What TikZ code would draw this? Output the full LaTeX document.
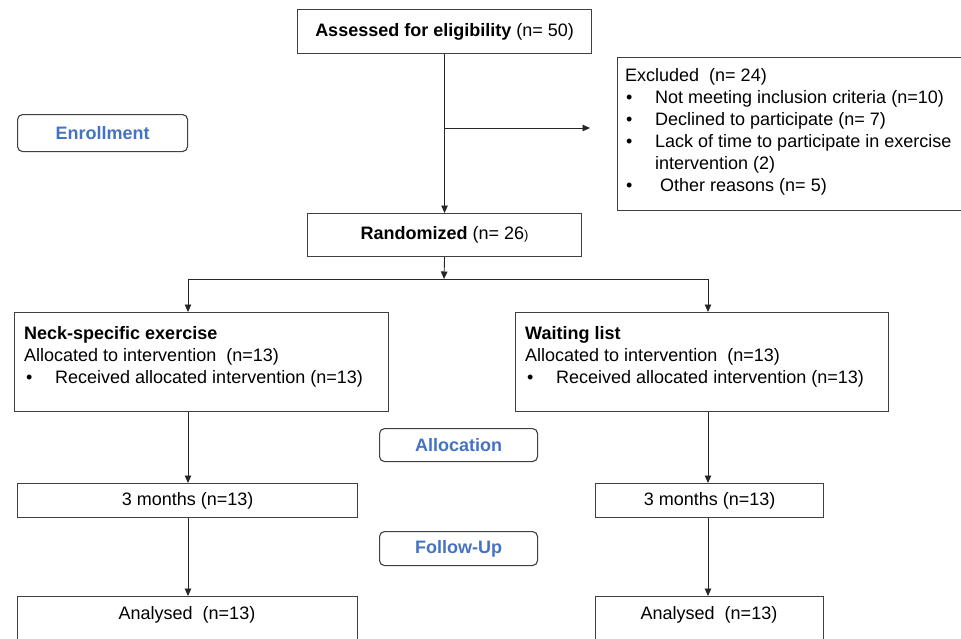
\documentclass[tikz,border=0pt]{standalone}
\usepackage{fontspec}
\setmainfont{Liberation Sans}
\usetikzlibrary{arrows.meta}
\definecolor{boxline}{HTML}{404040}
\definecolor{stageblue}{HTML}{4472C4}
\begin{document}
\begin{tikzpicture}[x=1pt,y=-1pt,
  font=\fontsize{18}{22}\selectfont,
  box/.style={draw=boxline, line width=1.1pt, inner sep=0pt, anchor=north west},
  stage/.style={draw=boxline, line width=1.1pt, rounded corners=5pt, inner sep=0pt,
    anchor=north west, font=\fontsize{18}{22}\selectfont\bfseries, text=stageblue},
  conn/.style={draw=black!85, line width=0.9pt},
  arr/.style={conn, -{Triangle[length=7.5pt,width=6.5pt]}},
  txt/.style={inner sep=0pt, align=left, anchor=north west}
]
\useasboundingbox (0,0) rectangle (961,638);
\clip (0,0) rectangle (961,638);

% stage labels
\node[stage, minimum width=170pt, minimum height=37pt] (enrol) at (17,114) {Enrollment};
\node[stage, minimum width=158pt, minimum height=33pt] (alloc) at (379,428) {Allocation};
\node[stage, minimum width=158pt, minimum height=34pt] (follow) at (379,531) {Follow-Up};

% main boxes
\node[box, minimum width=294pt, minimum height=44pt] (assess) at (297,9)
  {{\bfseries Assessed for eligibility} (n= 50)};
\node[box, minimum width=370pt, minimum height=153pt] (excl) at (617,57) {};
\node[txt] (exclTxt) at (625,68) {Excluded\ \ (n= 24)\\
  \makebox[30pt][l]{\hspace{1pt}•}Not meeting inclusion criteria (n=10)\\
  \makebox[30pt][l]{\hspace{1pt}•}Declined to participate (n= 7)\\
  \makebox[30pt][l]{\hspace{1pt}•}Lack of time to participate in exercise\\
  \hspace*{30pt}intervention (2)\\
  \makebox[30pt][l]{\hspace{1pt}•}\hspace{5pt}Other reasons (n= 5)};
\node[box, minimum width=274pt, minimum height=43pt] (rand) at (307,213)
  {{\bfseries Randomized} (n= 26{\fontsize{13}{15}\selectfont)}};

\node[box, minimum width=374pt, minimum height=99pt] (neck) at (14,312) {};
\node[txt] (neckTxt) at (24,326) {{\bfseries Neck-specific exercise}\\
  Allocated to intervention\ \ (n=13)\\
  \makebox[31pt][l]{\hspace{2pt}•}Received allocated intervention (n=13)};
\node[box, minimum width=373pt, minimum height=99pt] (wait) at (515,312) {};
\node[txt] (waitTxt) at (525,326) {{\bfseries Waiting list}\\
  Allocated to intervention\ \ (n=13)\\
  \makebox[31pt][l]{\hspace{2pt}•}Received allocated intervention (n=13)};

\node[box, minimum width=340pt, minimum height=34pt] (m3l) at (17,483) {3 months (n=13)};
\node[box, minimum width=228pt, minimum height=34pt] (m3r) at (595,483) {3 months (n=13)};

\node[box, minimum width=340pt, minimum height=60pt] (anl) at (17,596) {};
\node[box, minimum width=228pt, minimum height=60pt] (anr) at (595,596) {};
\node[inner sep=0pt] (anlTxt) at (187,615) {Analysed\ \ (n=13)};
\node[inner sep=0pt] (anrTxt) at (709,615) {Analysed\ \ (n=13)};

% connectors
\coordinate (br) at (444,128);
\coordinate (split) at (444,279);
\coordinate (lt) at (188,279);
\coordinate (rt) at (708,279);
\draw[arr] (assess.south) -- (rand.north);
\draw[arr, shorten >=27pt] (br) -- (br -| excl.west);
\draw[arr] (rand.south) -- (split);
\draw[conn] (lt) -- (rt);
\draw[arr] (lt) -- (lt |- neck.north);
\draw[arr] (rt) -- (rt |- wait.north);
\draw[arr] (lt |- neck.south) -- (lt |- m3l.north);
\draw[arr] (rt |- wait.south) -- (rt |- m3r.north);
\draw[arr] (lt |- m3l.south) -- (lt |- anl.north);
\draw[arr] (rt |- m3r.south) -- (rt |- anr.north);
\end{tikzpicture}
\end{document}
